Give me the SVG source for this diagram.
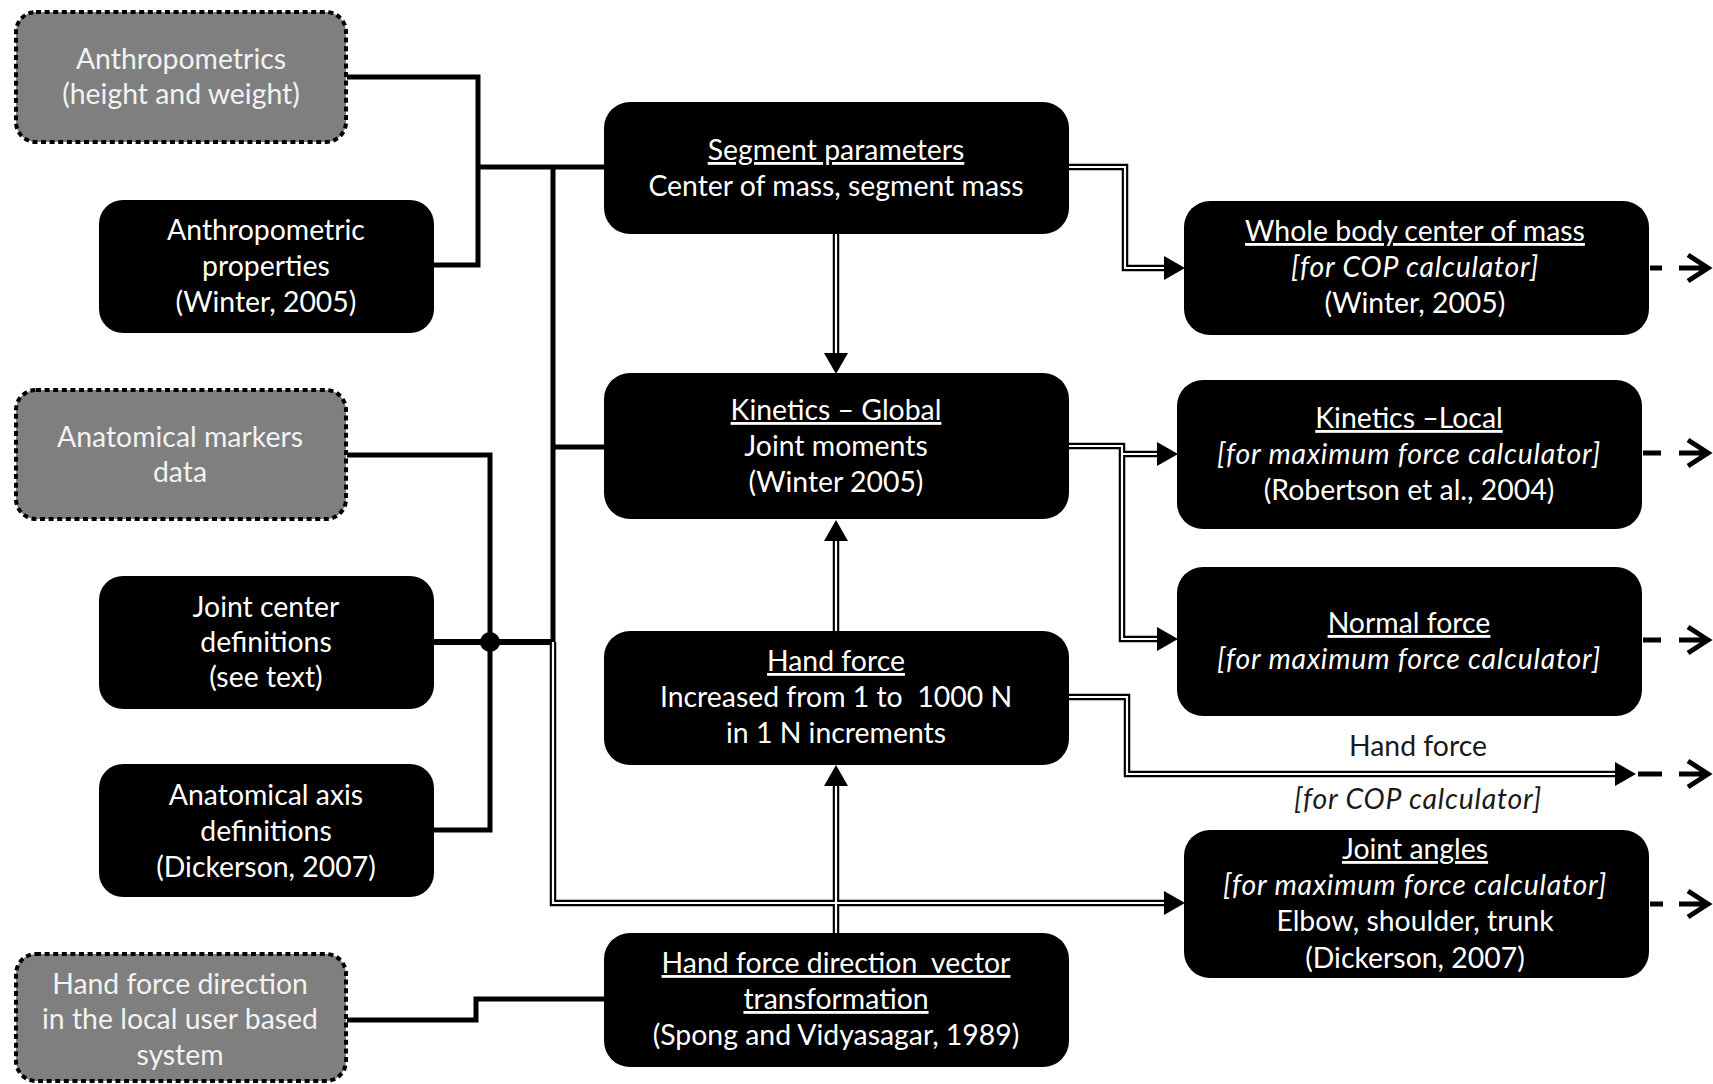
<svg xmlns="http://www.w3.org/2000/svg" width="1713" height="1084" viewBox="0 0 1713 1084">
  <style>
    .blk { fill: #000; }
    .src { fill: #7f7f7f; stroke: #000; stroke-width: 4; stroke-dasharray: 5 3.6; }
    .t { font-family: Lato, "Liberation Sans", sans-serif; font-size: 28.4px; fill: #fff; text-anchor: middle; }
    .g { fill: #f2f2f2; }
    .lbl { fill: #1a1a1a; }
    .u { text-decoration: underline; }
    .i { font-style: italic; letter-spacing: 0.8px; }
    .wire { fill: none; stroke: #000; stroke-width: 5; }
    .dbl { fill: none; stroke: #000; stroke-width: 6.5; }
    .dbl-gap { fill: none; stroke: #fff; stroke-width: 2.2; }
    .out { fill: none; stroke: #000; stroke-width: 5; }
  </style>
  <defs>
    <marker id="tri" markerUnits="userSpaceOnUse" markerWidth="22" markerHeight="24" refX="0" refY="12" orient="auto">
      <path d="M0,0 L21,12 L0,24 Z" fill="#000"/>
    </marker>
    <!-- double-line routes, drawn twice: black body then white gap -->
    <path id="r1" d="M553,642 V903 H1164"/>
    <path id="r2" d="M836,234 V353"/>
    <path id="r3" d="M836,631 V541"/>
    <path id="r4" d="M836,933 V786"/>
    <path id="r5" d="M1069,167 H1125 V268 H1164"/>
    <path id="r6" d="M1069,446 H1122 V639 H1157"/>
    <path id="r7" d="M1122,454 H1157"/>
    <path id="r8" d="M1069,697 H1127 V774 H1615"/>
  </defs>

  <!-- connectors -->
  <g id="connectors">
    <path class="wire" d="M347,77 H478 V265 H434"/>
    <path class="wire" d="M478,167 H604"/>
    <path class="wire" d="M553,167 V644"/>
    <path class="wire" d="M553,447 H604"/>
    <path class="wire" d="M347,455 H490 V830 H434"/>
    <path class="wire" style="stroke-width:6" d="M434,642 H553"/>
    <circle cx="490" cy="642" r="10" fill="#000"/>
    <path class="wire" d="M347,1020 H476 V999 H604"/>

    <g class="dbl" marker-end="url(#tri)">
      <use href="#r1"/>
      <use href="#r2"/>
      <use href="#r3"/>
      <use href="#r4"/>
      <use href="#r5"/>
      <use href="#r6"/>
      <use href="#r7"/>
      <use href="#r8"/>
    </g>
    <g class="dbl-gap">
      <use href="#r1"/>
      <use href="#r2"/>
      <use href="#r3"/>
      <use href="#r4"/>
      <use href="#r5"/>
      <use href="#r6"/>
      <use href="#r7"/>
      <use href="#r8"/>
    </g>

    <!-- outgoing dashed arrows -->
    <g class="out">
      <path d="M1650,268 H1662 M1679,268 H1708 M1688,255 L1708,268 L1688,281"/>
      <path d="M1643,453 H1661 M1679,453 H1708 M1688,440 L1708,453 L1688,466"/>
      <path d="M1643,640 H1661 M1679,640 H1708 M1688,627 L1708,640 L1688,653"/>
      <path d="M1638,774 H1662 M1679,774 H1708 M1688,761 L1708,774 L1688,787"/>
      <path d="M1650,904 H1663 M1679,904 H1708 M1688,891 L1708,904 L1688,917"/>
    </g>
  </g>

  <!-- input sources -->
  <g id="anthropometrics">
    <rect class="src" x="16" y="12" width="330" height="130" rx="20"/>
    <text class="t g" x="181" y="69">Anthropometrics</text>
    <text class="t g" x="181" y="104">(height and weight)</text>
  </g>
  <g id="anthropometric-properties">
    <rect class="blk" x="99" y="200" width="335" height="133" rx="24"/>
    <text class="t" x="266" y="240">Anthropometric</text>
    <text class="t" x="266" y="276">properties</text>
    <text class="t" x="266" y="312">(Winter, 2005)</text>
  </g>
  <g id="anatomical-markers">
    <rect class="src" x="16" y="390" width="330" height="129" rx="20"/>
    <text class="t g" x="180" y="447">Anatomical markers</text>
    <text class="t g" x="180" y="482">data</text>
  </g>
  <g id="joint-center">
    <rect class="blk" x="99" y="576" width="335" height="133" rx="24"/>
    <text class="t" x="266" y="617">Joint center</text>
    <text class="t" x="266" y="652">definitions</text>
    <text class="t" x="266" y="687">(see text)</text>
  </g>
  <g id="anatomical-axis">
    <rect class="blk" x="99" y="764" width="335" height="133" rx="24"/>
    <text class="t" x="266" y="805">Anatomical axis</text>
    <text class="t" x="266" y="841">definitions</text>
    <text class="t" x="266" y="877">(Dickerson, 2007)</text>
  </g>
  <g id="hand-force-direction">
    <rect class="src" x="16" y="954" width="330" height="127" rx="20"/>
    <text class="t g" x="180" y="994">Hand force direction</text>
    <text class="t g" x="180" y="1029">in the local user based</text>
    <text class="t g" x="180" y="1065">system</text>
  </g>

  <!-- processing steps -->
  <g id="segment-parameters">
    <rect class="blk" x="604" y="102" width="465" height="132" rx="26"/>
    <text class="t u" x="836" y="160">Segment parameters</text>
    <text class="t" x="836" y="196">Center of mass, segment mass</text>
  </g>
  <g id="kinetics-global">
    <rect class="blk" x="604" y="373" width="465" height="146" rx="26"/>
    <text class="t u" x="836" y="420">Kinetics – Global</text>
    <text class="t" x="836" y="456">Joint moments</text>
    <text class="t" x="836" y="492">(Winter 2005)</text>
  </g>
  <g id="hand-force">
    <rect class="blk" x="604" y="631" width="465" height="134" rx="26"/>
    <text class="t u" x="836" y="671">Hand force</text>
    <text class="t" x="836" y="707" xml:space="preserve">Increased from 1 to  1000 N</text>
    <text class="t" x="836" y="743">in 1 N increments</text>
  </g>
  <g id="vector-transformation">
    <rect class="blk" x="604" y="933" width="465" height="134" rx="26"/>
    <text class="t u" x="836" y="973" xml:space="preserve">Hand force direction  vector</text>
    <text class="t u" x="836" y="1009">transformation</text>
    <text class="t" x="836" y="1045">(Spong and Vidyasagar, 1989)</text>
  </g>

  <!-- outputs -->
  <g id="whole-body-com">
    <rect class="blk" x="1184" y="201" width="465" height="134" rx="26"/>
    <text class="t u" x="1415" y="241">Whole body center of mass</text>
    <text class="t i" x="1415" y="277">[for COP calculator]</text>
    <text class="t" x="1415" y="313">(Winter, 2005)</text>
  </g>
  <g id="kinetics-local">
    <rect class="blk" x="1177" y="380" width="465" height="149" rx="26"/>
    <text class="t u" x="1409" y="428">Kinetics –Local</text>
    <text class="t i" x="1409" y="464">[for maximum force calculator]</text>
    <text class="t" x="1409" y="500">(Robertson et al., 2004)</text>
  </g>
  <g id="normal-force">
    <rect class="blk" x="1177" y="567" width="465" height="149" rx="26"/>
    <text class="t u" x="1409" y="633">Normal force</text>
    <text class="t i" x="1409" y="669">[for maximum force calculator]</text>
  </g>
  <g id="hand-force-output">
    <text class="t lbl" x="1418" y="756">Hand force</text>
    <text class="t lbl i" x="1418" y="809">[for COP calculator]</text>
  </g>
  <g id="joint-angles">
    <rect class="blk" x="1184" y="830" width="465" height="148" rx="26"/>
    <text class="t u" x="1415" y="859">Joint angles</text>
    <text class="t i" x="1415" y="895">[for maximum force calculator]</text>
    <text class="t" x="1415" y="931">Elbow, shoulder, trunk</text>
    <text class="t" x="1415" y="968">(Dickerson, 2007)</text>
  </g>
</svg>
